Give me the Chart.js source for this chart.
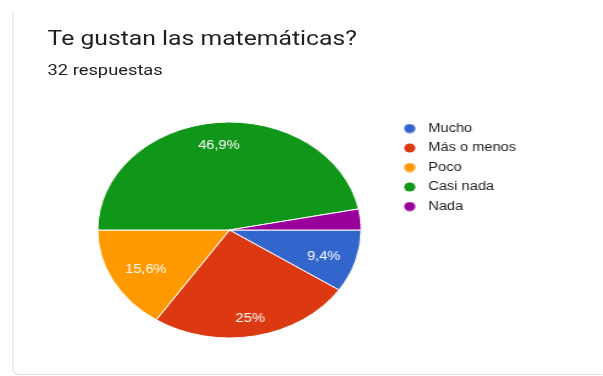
<!DOCTYPE html>
<html>
<head>
<meta charset="utf-8">
<script src="https://cdn.jsdelivr.net/npm/chart.js@4"></script>
<style>
  html, body { margin: 0; padding: 0; background: #fff; overflow: hidden; }
  /* the reference is stretched sideways, so the whole page is too */
  #page { position: relative; width: 494px; height: 376px; transform: scaleX(1.22); transform-origin: 0 0; overflow: hidden; }
  #card { position: absolute; left: 10px; top: 11px; width: 700px; height: 364px; border: 1px solid #dadce0; border-top: none; border-radius: 0 0 0 6px; box-sizing: border-box; }
  #title { position: absolute; left: 39px; top: 28px; font: 20.3px Roboto, sans-serif; line-height: 20px; color: #202124; white-space: nowrap; }
  #sub { position: absolute; left: 39px; top: 62.5px; font: 15px Roboto, sans-serif; line-height: 15px; color: #202124; white-space: nowrap; }
  #chart { position: absolute; left: 0; top: 105px; }
</style>
</head>
<body>
<div id="page">
  <div id="card"></div>
  <div id="title">Te gustan las matemáticas?</div>
  <div id="sub">32 respuestas</div>
  <canvas id="chart" width="494" height="250"></canvas>
</div>
<script>
const categories = ["Mucho", "Más o menos", "Poco", "Casi nada", "Nada"];
const counts = [3, 8, 5, 15, 1];
const colors = ["#3366cc", "#dc3912", "#ff9900", "#109618", "#990099"];

// small round legend marker
function dot(color) {
  const c = document.createElement("canvas");
  c.width = 10;
  c.height = 10;
  const g = c.getContext("2d");
  g.fillStyle = color;
  g.beginPath();
  g.arc(5, 5, 4.6, 0, Math.PI * 2);
  g.fill();
  return c;
}

// percent labels inside the slices, like google charts does
const sliceLabels = {
  id: "sliceLabels",
  afterDatasetsDraw(chart) {
    const ctx = chart.ctx;
    const meta = chart.getDatasetMeta(0);
    const total = counts.reduce((a, b) => a + b, 0);
    ctx.save();
    ctx.font = "12px Arial, 'Liberation Sans', sans-serif";
    ctx.fillStyle = "#ffffff";
    ctx.textAlign = "center";
    ctx.textBaseline = "middle";
    meta.data.forEach((arc, i) => {
      const pct = counts[i] / total * 100;
      if (pct < 5) return;
      const p = arc.getProps(["x", "y", "startAngle", "endAngle", "outerRadius"], true);
      const mid = (p.startAngle + p.endAngle) / 2;
      const txt = (Math.round(pct * 10) / 10).toString().replace(".", ",") + "%";
      const w = ctx.measureText(txt).width;
      const cos = Math.cos(mid), sin = Math.sin(mid);
      const r = p.outerRadius * 0.885 - (Math.abs(cos) * w / 2 + Math.abs(sin) * 6);
      ctx.fillText(txt, p.x + cos * r, p.y + sin * r + 3);
    });
    ctx.restore();
  }
};

new Chart(document.getElementById("chart"), {
  type: "pie",
  data: {
    labels: categories,
    datasets: [{
      data: counts,
      backgroundColor: colors,
      borderColor: "#ffffff",
      borderWidth: 1,
      radius: 108
    }]
  },
  options: {
    responsive: false,
    animation: false,
    rotation: 90,
    layout: { padding: { left: 57, top: 10, bottom: 10, right: 61 } },
    plugins: {
      tooltip: { enabled: false },
      legend: {
        position: "right",
        align: "start",
        labels: {
          usePointStyle: true,
          pointStyleWidth: 18.4,
          boxHeight: 6.5,
          padding: 7.5,
          color: "#222222",
          font: { family: "Arial, 'Liberation Sans', sans-serif", size: 12 },
          generateLabels(chart) {
            const items = Chart.overrides.pie.plugins.legend.labels.generateLabels(chart);
            items.forEach((it, i) => { it.pointStyle = dot(colors[i]); });
            return items;
          }
        }
      }
    }
  },
  plugins: [sliceLabels]
});
</script>
</body>
</html>
